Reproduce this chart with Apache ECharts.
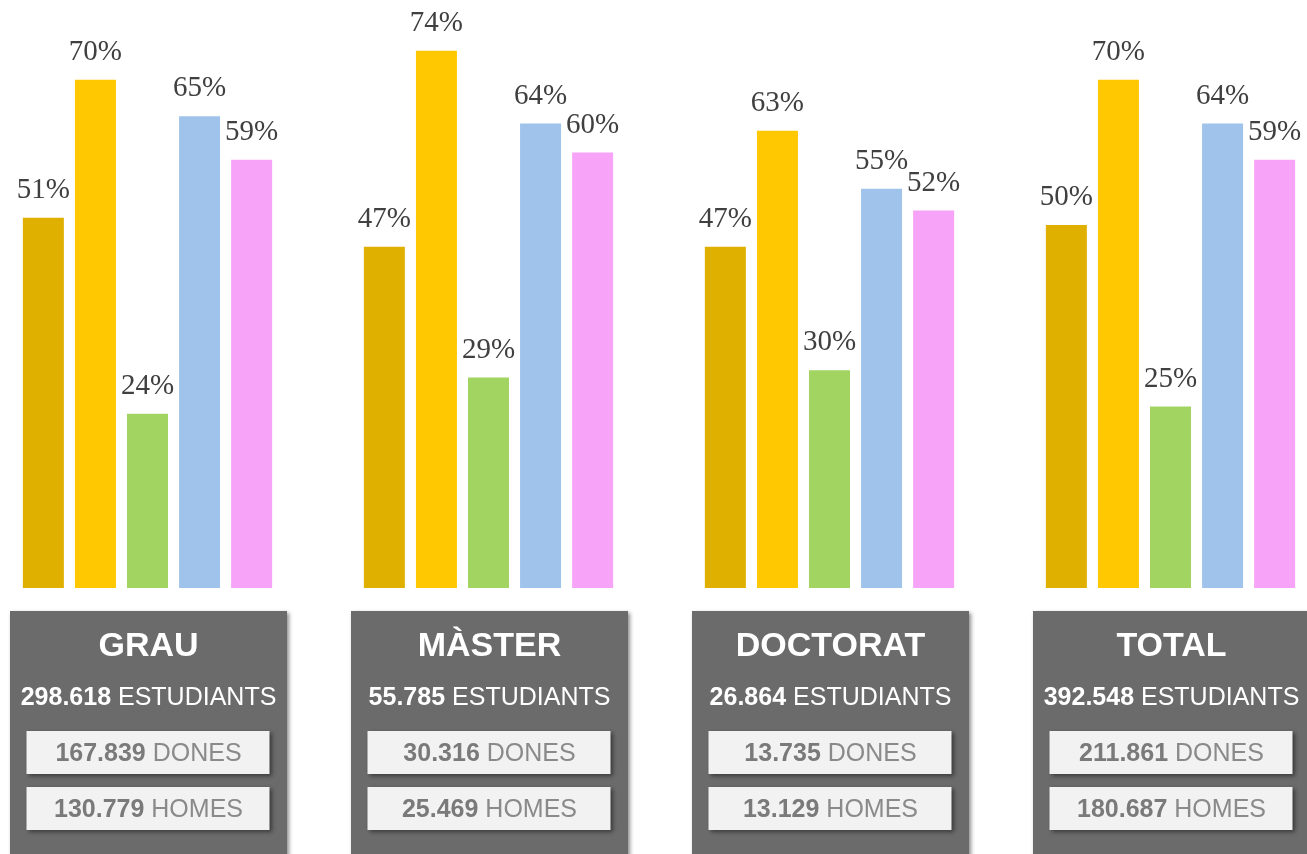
<!DOCTYPE html>
<html>
<head>
<meta charset="utf-8">
<style>
  html, body { margin: 0; padding: 0; background: #fff; }
  #chart { width: 1307px; height: 854px; }
</style>
<script src="https://cdn.jsdelivr.net/npm/echarts@6/dist/echarts.min.js"></script>
</head>
<body>
<div id="chart"></div>
<script>
// groups on the x axis
const categories = ["GRAU", "MÀSTER", "DOCTORAT", "TOTAL"];

// one array per bar colour (percent)
const serie1 = [51, 47, 47, 50];
const serie2 = [70, 74, 63, 70];
const serie3 = [24, 29, 30, 25];
const serie4 = [65, 64, 55, 64];
const serie5 = [59, 60, 52, 59];

// figures in the grey boxes
const totalStudents = ["298.618", "55.785", "26.864", "392.548"];
const women = ["167.839", "30.316", "13.735", "211.861"];
const men = ["130.779", "25.469", "13.129", "180.687"];

const colors = ["#dfb000", "#ffc800", "#a2d462", "#9fc3ea", "#f7a3f7"];
const allSeries = [serie1, serie2, serie3, serie4, serie5];

const chart = echarts.init(document.getElementById("chart"));

chart.setOption({
  animation: false,
  grid: {
    left: -23,
    right: -34,
    top: 0,
    bottom: 266,
    outerBoundsMode: "none"
  },
  xAxis: {
    type: "category",
    data: categories,
    axisLine: { show: false },
    axisTick: { show: false },
    axisLabel: { show: false }
  },
  yAxis: {
    type: "value",
    min: 0,
    max: 81,
    show: false,
    splitLine: { show: false }
  },
  series: allSeries.map((vals, i) => ({
    name: "Sèrie " + (i + 1),
    type: "bar",
    data: vals,
    barWidth: 41,
    barGap: "27%",
    itemStyle: { color: colors[i] },
    label: {
      show: true,
      position: "top",
      distance: 13,
      formatter: "{c}%",
      fontFamily: "Liberation Serif",
      fontSize: 29,
      color: "#404040"
    }
  }))
});

// grey boxes under each group, centred on the category
const boxShadow = {
  shadowBlur: 4,
  shadowOffsetX: 2,
  shadowOffsetY: 2,
  shadowColor: "rgba(0,0,0,0.45)"
};

const graphics = categories.map((cat, i) => {
  const cx = chart.convertToPixel({ xAxisIndex: 0 }, cat) + 1;
  const innerText = (num, word) => ({
    text: "{b|" + num + "\u00a0}{n|" + word + "}",
    align: "center",
    verticalAlign: "middle",
    rich: {
      b: { fontFamily: "Liberation Sans", fontWeight: "bold", fontSize: 25, fill: "#7a7a7a" },
      n: { fontFamily: "Liberation Sans", fontSize: 25, fill: "#8a8a8a" }
    }
  });
  return {
    type: "group",
    x: cx,
    y: 0,
    children: [
      {
        type: "rect",
        shape: { x: -138.5, y: 611, width: 277, height: 260 },
        style: Object.assign({ fill: "#6b6b6b" }, boxShadow)
      },
      {
        type: "text",
        x: 0,
        y: 647,
        style: {
          text: cat,
          align: "center",
          verticalAlign: "middle",
          fontFamily: "Liberation Sans",
          fontWeight: "bold",
          fontSize: 34,
          fill: "#ffffff"
        }
      },
      {
        type: "text",
        x: 0,
        y: 698,
        style: {
          text: "{b|" + totalStudents[i] + "\u00a0}{n|ESTUDIANTS}",
          align: "center",
          verticalAlign: "middle",
          rich: {
            b: { fontFamily: "Liberation Sans", fontWeight: "bold", fontSize: 25, fill: "#ffffff" },
            n: { fontFamily: "Liberation Sans", fontSize: 25, fill: "#ffffff" }
          }
        }
      },
      {
        type: "rect",
        shape: { x: -122, y: 731, width: 243, height: 43 },
        style: Object.assign({ fill: "#f2f2f2" }, boxShadow)
      },
      {
        type: "text",
        x: 0,
        y: 754,
        style: innerText(women[i], "DONES")
      },
      {
        type: "rect",
        shape: { x: -122, y: 787, width: 243, height: 43 },
        style: Object.assign({ fill: "#f2f2f2" }, boxShadow)
      },
      {
        type: "text",
        x: 0,
        y: 810,
        style: innerText(men[i], "HOMES")
      }
    ]
  };
});

chart.setOption({ graphic: graphics });
</script>
</body>
</html>
